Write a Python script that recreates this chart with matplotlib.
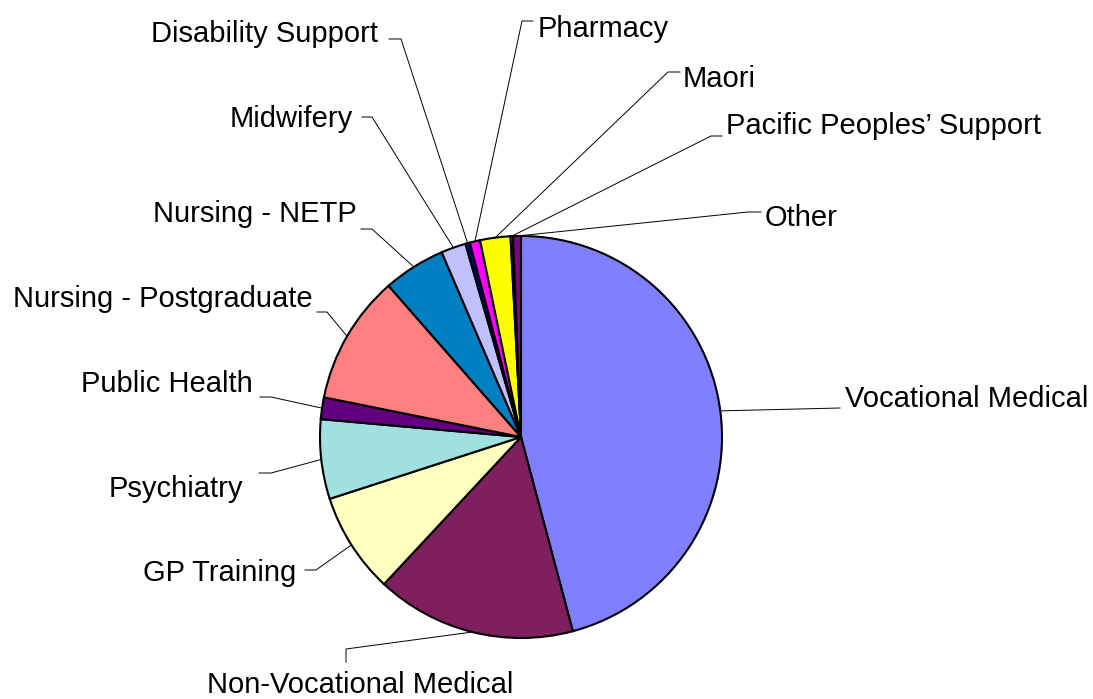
import numpy as np
import matplotlib
matplotlib.use('Agg')
import matplotlib.pyplot as plt

# Datos (porcentaje de cada categoría)
categorias = ['Vocational Medical', 'Non-Vocational Medical', 'GP Training', 'Psychiatry',
              'Public Health', 'Nursing - Postgraduate', 'Nursing - NETP', 'Midwifery',
              'Disability Support', 'Pharmacy', 'Maori', 'Pacific Peoples\u2019 Support', 'Other']
valores = [45.9, 16.1, 8.1, 6.4, 1.75, 10.4, 5.0, 2.0, 0.36, 0.83, 2.44, 0.19, 0.64]
colores = ['#8080FF', '#7F1F5F', '#FFFFC0', '#A0E0E0', '#600080', '#FF8080', '#0080C0',
           '#C0C0FF', '#000080', '#FF00FF', '#FFFF00', '#00FFFF', '#800080']

# Posición de etiquetas en píxeles: (x texto, y texto, alineación, codo, fin de guía)
W, H = 1093, 699
etiquetas_layout = [
    (845, 399, 'left', (840, 408), (840, 408)),
    (360, 685, 'center', (346, 649), (346, 662)),
    (296, 573, 'right', (316, 570), (305, 570)),
    (243, 489, 'right', (271, 473), (259, 473)),
    (253, 384, 'right', (271, 397), (260, 397)),
    (313, 299, 'right', (327, 312), (317, 312)),
    (357, 214, 'right', (372, 229), (361, 229)),
    (353, 119, 'right', (372, 117), (362, 117)),
    (378, 34, 'right', (401, 39), (389, 39)),
    (538, 29, 'left', (522, 21), (533, 21)),
    (683, 79, 'left', (668, 72), (680, 72)),
    (726, 126, 'left', (711, 136), (722, 136)),
    (765, 218, 'left', (748, 212), (761, 212)),
]
centro_px = (521, 437)
radio_px = 201

def px(x, y):
    return x, H - y

fig = plt.figure(figsize=(W / 100, H / 100), dpi=100)
ax = fig.add_axes([0, 0, 1, 1])
ax.set_xlim(0, W)
ax.set_ylim(0, H)
ax.axis('off')

wedges, _ = ax.pie(valores, colors=colores, startangle=90, counterclock=False,
                   center=px(*centro_px), radius=radio_px,
                   wedgeprops=dict(edgecolor='black', linewidth=1.5))
ax.set_xlim(0, W)
ax.set_ylim(0, H)

for w, nombre, (tx, ty, ha, codo, fin) in zip(wedges, categorias, etiquetas_layout):
    ang = np.deg2rad((w.theta1 + w.theta2) / 2)
    ax_x = w.center[0] + w.r * np.cos(ang)
    ax_y = w.center[1] + w.r * np.sin(ang)
    xs = [ax_x, codo[0], fin[0]]
    ys = [ax_y, H - codo[1], H - fin[1]]
    ax.plot(xs, ys, color='black', linewidth=0.7)
    ax.text(tx, H - ty, nombre, ha=ha, va='center', fontsize=21,
            family=['Liberation Sans', 'DejaVu Sans'])

fig.savefig('out.png', dpi=100)
